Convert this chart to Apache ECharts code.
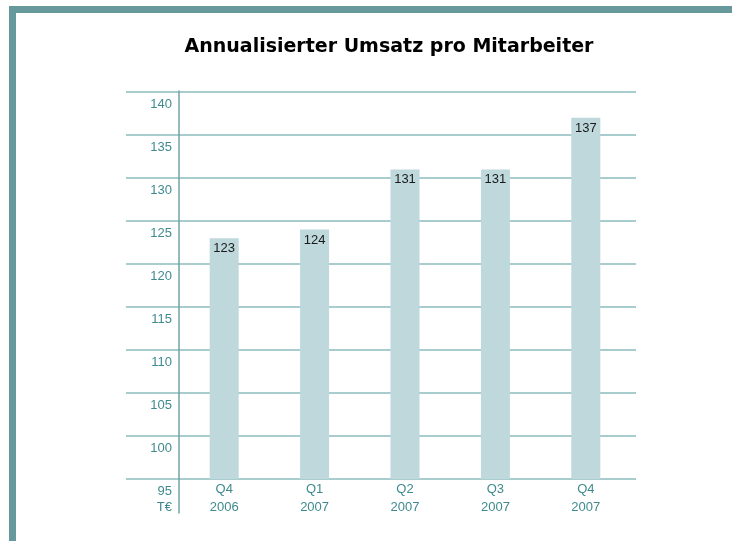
<!DOCTYPE html>
<html>
<head>
<meta charset="utf-8">
<script src="https://cdn.jsdelivr.net/npm/echarts@6/dist/echarts.min.js"></script>
<style>
  html, body { margin: 0; padding: 0; background: #fff; }
  #chart { width: 732px; height: 541px; }
</style>
</head>
<body>
<div id="chart"></div>
<script>
var categories = ['Q4\n2006', 'Q1\n2007', 'Q2\n2007', 'Q3\n2007', 'Q4\n2007']
var umsatz = [123, 124, 131, 131, 137]
var yMin = 95
var yMax = 140
var yStep = 5

var teal = '#3f8a8e'
var gridColor = '#8dbcbf'

var chart = echarts.init(document.getElementById('chart'))
var option = {
  animation: false,
  title: {
    text: 'Annualisierter Umsatz pro Mitarbeiter',
    left: 384,
    textAlign: 'center',
    top: 33,
    textStyle: {
      fontFamily: 'DejaVu Sans',
      fontWeight: 'bold',
      fontSize: 19,
      color: '#000'
    }
  },
  graphic: [
    // teal frame, top and left only
    { type: 'rect', shape: { x: 9, y: 6, width: 723, height: 7 }, style: { fill: '#67999c' } },
    { type: 'rect', shape: { x: 9, y: 6, width: 7, height: 535 }, style: { fill: '#67999c' } }
  ],
  grid: [
    // wide grid only for the horizontal lines
    { left: 126, right: 96, top: 92, bottom: 62 },
    // bars
    { left: 179, right: 101, top: 92, bottom: 62 },
    // the long vertical axis line
    { left: 179, right: 101, top: 91, bottom: 28 }
  ],
  xAxis: [
    { gridIndex: 0, type: 'category', data: categories, show: false },
    {
      gridIndex: 1,
      type: 'category',
      data: categories,
      axisLine: { show: false },
      axisTick: { show: false },
      axisLabel: {
        margin: 1,
        color: teal,
        fontFamily: 'Liberation Sans',
        fontSize: 13,
        lineHeight: 18
      }
    },
    { gridIndex: 2, type: 'category', data: categories, show: false }
  ],
  yAxis: [
    {
      gridIndex: 0,
      type: 'value',
      min: yMin,
      max: yMax,
      interval: yStep,
      axisLine: { show: false },
      axisTick: { show: false },
      axisLabel: { show: false },
      splitLine: { lineStyle: { color: gridColor, width: 1.5 } }
    },
    {
      gridIndex: 1,
      type: 'value',
      min: yMin,
      max: yMax,
      interval: yStep,
      axisLine: { show: false },
      axisTick: { show: false },
      splitLine: { show: false },
      axisLabel: {
        margin: 7,
        color: teal,
        fontFamily: 'Liberation Sans',
        fontSize: 13,
        lineHeight: 16,
        verticalAlign: 'top',
        padding: [4, 0, 0, 0],
        formatter: function (v) {
          return v === yMin ? v + '\nT€' : String(v)
        }
      }
    },
    {
      gridIndex: 2,
      type: 'value',
      min: 0,
      max: 1,
      axisLine: { show: true, lineStyle: { color: '#6fa3a6', width: 1.5 } },
      axisTick: { show: false },
      axisLabel: { show: false },
      splitLine: { show: false }
    }
  ],
  series: [
    {
      type: 'bar',
      xAxisIndex: 1,
      yAxisIndex: 1,
      data: umsatz,
      barWidth: 29,
      itemStyle: { color: '#bed8dc' },
      label: {
        show: true,
        position: 'insideTop',
        distance: 4,
        color: '#1a1a1a',
        fontFamily: 'Liberation Sans',
        fontSize: 13
      }
    }
  ]
}
chart.setOption(option)
</script>
</body>
</html>
